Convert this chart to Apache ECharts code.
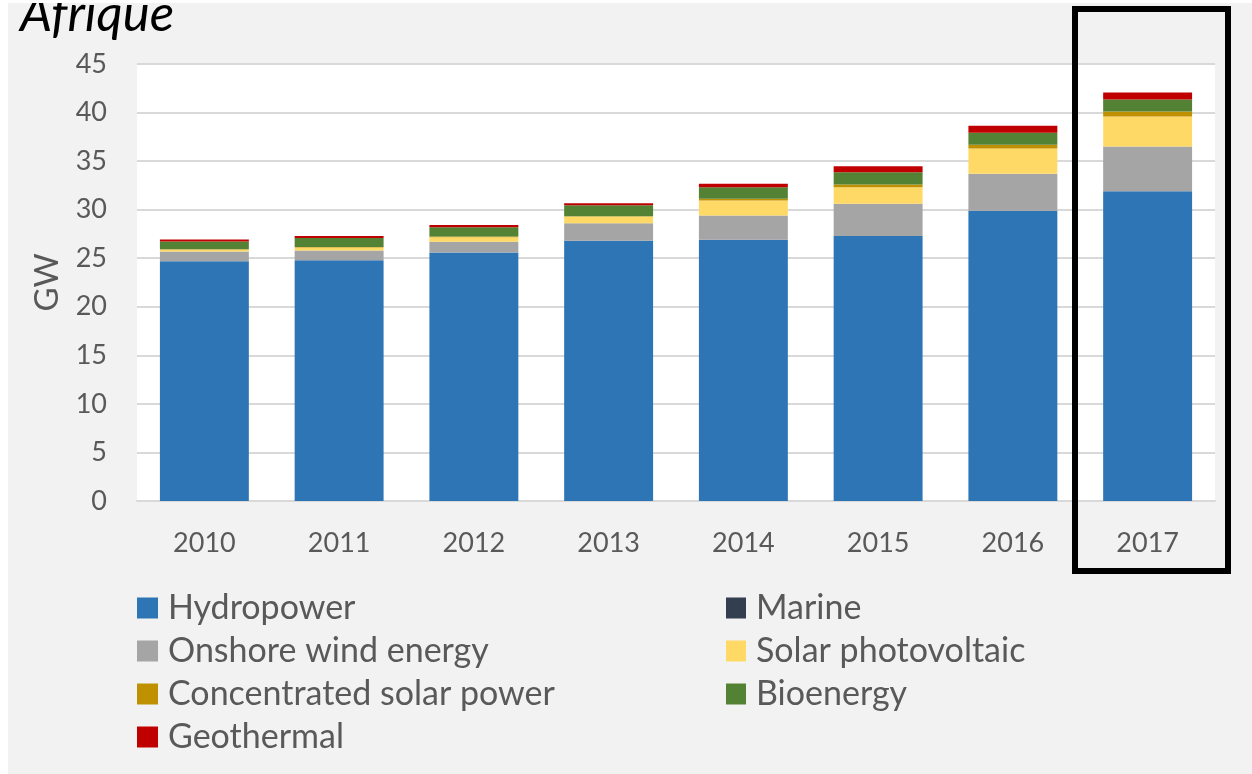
<!DOCTYPE html>
<html>
<head>
<meta charset="utf-8">
<script src="https://cdn.jsdelivr.net/npm/echarts@6/dist/echarts.min.js"></script>
<style>
html,body{margin:0;padding:0;background:#ffffff;width:1252px;height:774px;overflow:hidden;}
#chart{position:absolute;left:8px;top:3px;width:1244px;height:771px;}
</style>
</head>
<body>
<div id="chart"></div>
<script>
const years = ['2010','2011','2012','2013','2014','2015','2016','2017'];
const hydropower = [24.7, 24.8, 25.6, 26.8, 26.9, 27.3, 29.9, 31.9];
const marine = [0, 0, 0, 0, 0, 0, 0, 0];
const onshoreWind = [1.0, 1.0, 1.1, 1.8, 2.5, 3.3, 3.8, 4.6];
const solarPV = [0.2, 0.3, 0.45, 0.7, 1.55, 1.7, 2.6, 3.1];
const csp = [0.02, 0.05, 0.08, 0.03, 0.17, 0.28, 0.38, 0.52];
const bioenergy = [0.8, 0.93, 0.96, 1.13, 1.2, 1.27, 1.24, 1.23];
const geothermal = [0.2, 0.21, 0.24, 0.21, 0.34, 0.63, 0.71, 0.72];
const yTicks = [0, 5, 10, 15, 20, 25, 30, 35, 40, 45];

const FONT = 'Lato';
const chart = echarts.init(document.getElementById('chart'), null, {renderer: 'canvas'});

function bar(name, data, color) {
  return {
    name: name, type: 'bar', stack: 'total', data: data,
    barCategoryGap: '34%',
    itemStyle: {color: color},
    emphasis: {disabled: true}
  };
}

const legendText = {fontFamily: FONT, fontSize: 34, color: '#595959', padding: [0, 0, 0, 5]};

const option = {
  backgroundColor: '#f2f2f2',
  animation: false,
  textStyle: {fontFamily: FONT},
  title: {
    text: 'Afrique',
    left: 7,
    top: -19,
    textStyle: {fontFamily: FONT, fontStyle: 'italic', fontWeight: 'normal', fontSize: 51, color: '#000000'}
  },
  grid: {
    left: 129, right: 37, top: 61, bottom: 273,
    show: true, backgroundColor: '#ffffff', borderWidth: 0
  },
  legend: [
    {
      data: ['Hydropower', 'Onshore wind energy', 'Concentrated solar power', 'Geothermal'],
      orient: 'vertical', left: 129, top: 588, height: 180, padding: 0,
      itemWidth: 21, itemHeight: 21, itemGap: 9,
      icon: 'rect',
      selectedMode: false,
      textStyle: legendText
    },
    {
      data: ['Marine', 'Solar photovoltaic', 'Bioenergy'],
      orient: 'vertical', left: 718, top: 588, height: 180, padding: 0,
      itemWidth: 20, itemHeight: 21, itemGap: 9,
      icon: 'rect',
      selectedMode: false,
      textStyle: legendText
    }
  ],
  xAxis: {
    type: 'category',
    data: years,
    axisTick: {show: false},
    axisLine: {show: true, lineStyle: {color: '#d9d9d9', width: 2}},
    axisLabel: {fontFamily: FONT, fontSize: 27, color: '#595959', margin: 29}
  },
  yAxis: {
    type: 'value',
    min: yTicks[0], max: yTicks[yTicks.length - 1], interval: 5,
    name: 'GW',
    nameLocation: 'middle',
    nameGap: 73,
    nameRotate: 90,
    nameTextStyle: {fontFamily: FONT, fontSize: 33, color: '#595959'},
    axisLine: {show: false},
    axisTick: {show: false},
    axisLabel: {fontFamily: FONT, fontSize: 27, color: '#595959', margin: 30},
    splitLine: {lineStyle: {color: '#d9d9d9', width: 2}}
  },
  series: [
    bar('Hydropower', hydropower, '#2e75b6'),
    bar('Marine', marine, '#333f50'),
    bar('Onshore wind energy', onshoreWind, '#a5a5a5'),
    bar('Solar photovoltaic', solarPV, '#ffd966'),
    bar('Concentrated solar power', csp, '#bf9000'),
    bar('Bioenergy', bioenergy, '#548235'),
    bar('Geothermal', geothermal, '#c00000')
  ],
  graphic: [
    {
      type: 'rect',
      shape: {x: 1067, y: 6, width: 153, height: 562},
      style: {fill: 'none', stroke: '#000000', lineWidth: 6},
      z: 100
    }
  ]
};
chart.setOption(option);
</script>
</body>
</html>
